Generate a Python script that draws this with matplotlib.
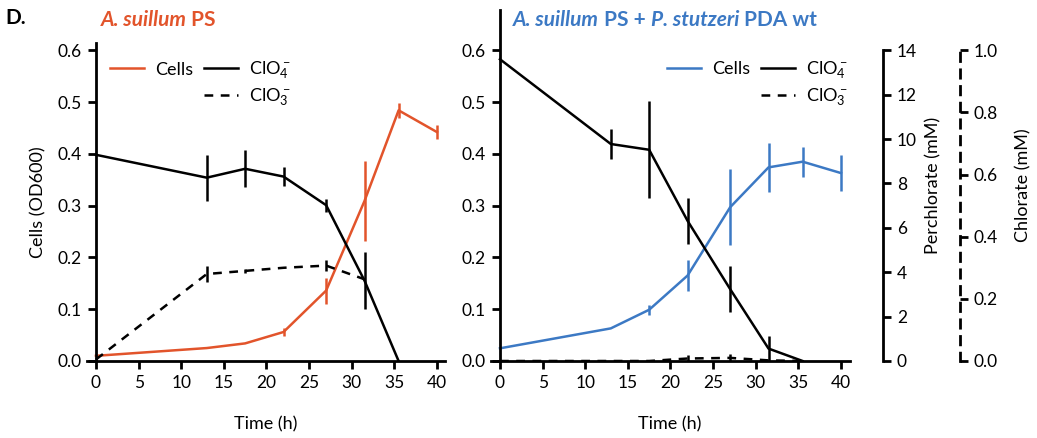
import matplotlib
matplotlib.use("Agg")
import matplotlib.pyplot as plt
from matplotlib.lines import Line2D
from matplotlib.ticker import FormatStrFormatter

# ==========================================
# DADOS
# ==========================================
tempo = [0, 13, 17.5, 22, 27, 31.5, 35.5, 40]

# A. suillum PS
cel_ps = [0.010, 0.025, 0.034, 0.056, 0.136, 0.309, 0.484, 0.442]
cel_ps_err = [0, 0, 0, 0.008, 0.025, 0.077, 0.015, 0.013]
perc_ps = [9.29, 8.26, 8.66, 8.31, 7.02, 3.62, 0.0]
perc_ps_err = [0, 1.03, 0.84, 0.42, 0.30, 1.28, 0]
clor_ps = [0.005, 0.28, 0.29, 0.30, 0.307, 0.263]
clor_ps_err = [0, 0.025, 0.007, 0, 0.017, 0]

# A. suillum PS + P. stutzeri PDA wt
cel_co = [0.0245, 0.063, 0.099, 0.165, 0.297, 0.374, 0.385, 0.363]
cel_co_err = [0, 0, 0.010, 0.030, 0.073, 0.047, 0.029, 0.035]
perc_co = [13.6, 9.78, 9.52, 6.32, 3.24, 0.56, 0.0]
perc_co_err = [0, 0.68, 2.19, 1.04, 1.05, 0.58, 0]
clor_co = [0, 0, 0, 0.008, 0.010, 0.002, 0]
clor_co_err = [0, 0, 0, 0.010, 0.012, 0, 0]

x_ticks = [0, 5, 10, 15, 20, 25, 30, 35, 40]
y_ticks = [0.0, 0.1, 0.2, 0.3, 0.4, 0.5, 0.6]
perc_ticks = [0, 2, 4, 6, 8, 10, 12, 14]
clor_ticks = [0.0, 0.2, 0.4, 0.6, 0.8, 1.0]

LARANJA = '#E2542B'
AZUL = '#3C79C4'
PRETO = 'black'

plt.rcParams['font.family'] = ['Lato', 'DejaVu Sans']
plt.rcParams['mathtext.default'] = 'regular'

LW = 1.8
FS_TICK = 12.5
FS_LABEL = 13
FS_TITULO = 15
TRACEJADO = (0, (3.5, 3))


def estilo_eixo(ax, ytop):
    ax.patch.set_visible(False)
    ax.set_xlim(-1.1, 41)
    ax.set_ylim(0, ytop)
    ax.spines['top'].set_visible(False)
    ax.spines['right'].set_visible(False)
    ax.spines['left'].set_position(('data', 0))
    for s in ('left', 'bottom'):
        ax.spines[s].set_linewidth(2)
    ax.set_xticks(x_ticks)
    ax.set_yticks(y_ticks)
    ax.yaxis.set_major_formatter(FormatStrFormatter('%.1f'))
    ax.tick_params(direction='out', length=6, width=2, labelsize=FS_TICK, pad=4)
    ax.set_xlabel("Time (h)", fontsize=FS_LABEL, labelpad=18)


def eixo_gemeo(ax, ytop, visivel=False):
    tw = ax.twinx()
    tw.patch.set_visible(False)
    tw.set_ylim(0, ytop)
    for s in ('top', 'left', 'bottom'):
        tw.spines[s].set_visible(False)
    if not visivel:
        tw.spines['right'].set_visible(False)
        tw.set_yticks([])
    return tw


def desenhar(ax, ax_p, ax_c, cel, cel_err, perc, perc_err, clor, clor_err, cor):
    ax.errorbar(tempo, cel, yerr=cel_err, color=cor, lw=LW, elinewidth=LW, capsize=0)
    ax_p.errorbar(tempo[:len(perc)], perc, yerr=perc_err, color=PRETO, lw=LW,
                  elinewidth=LW, capsize=0)
    ax_c.errorbar(tempo[:len(clor)], clor, yerr=clor_err, color=PRETO, lw=LW,
                  elinewidth=LW, capsize=0, linestyle=TRACEJADO)


def legenda(ax, cor, anchor):
    h = [Line2D([], [], color=cor, lw=LW),
         Line2D([], [], color='none'),
         Line2D([], [], color=PRETO, lw=LW),
         Line2D([], [], color=PRETO, lw=LW, linestyle=TRACEJADO)]
    lab = ['Cells', '', r'ClO$_4^-$', r'ClO$_3^-$']
    ax.legend(h, lab, ncol=2, frameon=False, loc='upper left', bbox_to_anchor=anchor,
              fontsize=FS_LABEL, handlelength=1.9, handletextpad=0.6,
              columnspacing=0.6, labelspacing=0.3, borderaxespad=0)


def titulo(ax, x, y, partes, cor):
    # texto com partes em itálico e partes normais, encadeadas lado a lado
    kw = dict(color=cor, fontsize=FS_TITULO, fontweight='bold')
    t = fig.text(x, y, partes[0][0], ha='left', va='baseline', style=partes[0][1], **kw)
    for txt, est in partes[1:]:
        t = ax.annotate(txt, xy=(1, 0), xycoords=t, ha='left', va='bottom',
                        style=est, annotation_clip=False, **kw)
    return t


fig = plt.figure(figsize=(10.37, 4.38), dpi=100)

# ---------- painel esquerdo ----------
top_e = 0.614
ax1 = fig.add_axes([0.0835, 0.1758, 0.3461, 0.726])
estilo_eixo(ax1, top_e)
ax1.set_ylabel("Cells (OD600)", fontsize=FS_LABEL, labelpad=8)
ax1p = eixo_gemeo(ax1, top_e * 14 / 0.6)
ax1c = eixo_gemeo(ax1, top_e / 0.6)
desenhar(ax1, ax1p, ax1c, cel_ps, cel_ps_err, perc_ps, perc_ps_err, clor_ps, clor_ps_err, LARANJA)
legenda(ax1c, LARANJA, (0.045, 0.97))

# ---------- painel direito ----------
top_d = 0.678
ax2 = fig.add_axes([0.4731, 0.1758, 0.3461, 0.8014])
estilo_eixo(ax2, top_d)
ax2p = eixo_gemeo(ax2, top_d * 14 / 0.6, visivel=True)
ax2p.spines['right'].set_position(('axes', 1.093))
ax2p.spines['right'].set_bounds(0, 14)
ax2p.spines['right'].set_linewidth(2)
ax2p.set_yticks(perc_ticks)
ax2p.tick_params(direction='out', length=6, width=2, labelsize=FS_TICK, pad=4)
ax2p.set_ylabel("Perchlorate (mM)", fontsize=FS_LABEL, labelpad=6)

ax2c = eixo_gemeo(ax2, top_d / 0.6, visivel=True)
ax2c.spines['right'].set_position(('axes', 1.308))
ax2c.spines['right'].set_bounds(0, 1)
ax2c.spines['right'].set_linewidth(2)
ax2c.spines['right'].set_linestyle((0, (3, 3)))
ax2c.set_yticks(clor_ticks)
ax2c.yaxis.set_major_formatter(FormatStrFormatter('%.1f'))
ax2c.tick_params(direction='out', length=6, width=2, labelsize=FS_TICK, pad=4)
ax2c.set_ylabel("Chlorate (mM)", fontsize=FS_LABEL, labelpad=12)

desenhar(ax2, ax2p, ax2c, cel_co, cel_co_err, perc_co, perc_co_err, clor_co, clor_co_err, AZUL)
legenda(ax2c, AZUL, (0.47, 0.88))

# ---------- títulos ----------
fig.text(0.005, 0.935, "D.", fontsize=15, fontweight='bold', va='bottom')
titulo(ax2c, 0.097, 0.94, [("A. suillum", 'italic'), (" PS", 'normal')], LARANJA)
titulo(ax2c, 0.495, 0.94, [("A. suillum", 'italic'), (" PS + ", 'normal'),
                           ("P. stutzeri", 'italic'), (" PDA wt", 'normal')], AZUL)

fig.savefig("out.png", dpi=100)
